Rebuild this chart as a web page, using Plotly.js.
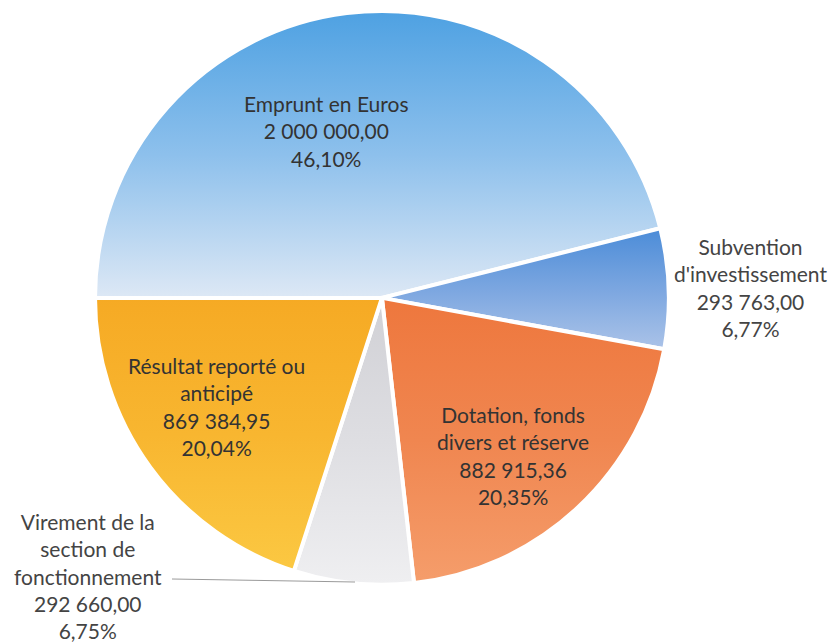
<!DOCTYPE html>
<html>
<head>
<meta charset="utf-8">
<script src="https://cdn.plot.ly/plotly-3.0.1.min.js"></script>
<style>html,body{margin:0;padding:0;background:#fff;}#chart{width:835px;height:642px;}</style>
</head>
<body>
<div id="chart"></div>
<script>
const labels = ["Emprunt en Euros", "Subvention d'investissement", "Dotation, fonds divers et réserve", "Virement de la section de fonctionnement", "Résultat reporté ou anticipé"];
const labelLines = ["Emprunt en Euros", "Subvention<br>d'investissement", "Dotation, fonds<br>divers et réserve", "Virement de la<br>section de<br>fonctionnement", "Résultat reporté ou<br>anticipé"];
const values = [2000000.00, 293763.00, 882915.36, 292660.00, 869384.95];
const valueText = ["2 000 000,00", "293 763,00", "882 915,36", "292 660,00", "869 384,95"];
const percentText = ["46,10%", "6,77%", "20,35%", "6,75%", "20,04%"];
const colors = ["#8cc0ec", "#7aa6e0", "#f0884f", "#e0e0e3", "#f8b833"];
const gradients = [
  ["#4ea1e2", "#8dc0ec", "#dde8f5"],
  ["#4b8cd8", "#7ba6e0", "#abc3e8"],
  ["#ee773d", "#f08650", "#f59d6b"],
  ["#d0d0d5", "#dedee2", "#efeff1"],
  ["#f6aa24", "#f8b630", "#fbc842"]
];

const font = "Lato, 'Open Sans', sans-serif";
const fullText = (i) => labelLines[i] + "<br>" + valueText[i] + "<br>" + percentText[i];

const trace = {
  type: "pie",
  labels: labels,
  values: values,
  textinfo: "none",
  hoverinfo: "label+value+percent",
  sort: false,
  direction: "clockwise",
  rotation: -90,
  marker: {colors: colors, line: {color: "#ffffff", width: 4}},
  domain: {x: [0.1138, 0.801], y: [0.089, 0.983]},
  showlegend: false
};

// label anchor positions in pixels (center of text block)
const labelPos = [[326, 131], [750, 287], [513, 455], [88, 576], [216, 406]];
const labelColor = ["#333333", "#444444", "#333333", "#444444", "#333333"];

const layout = {
  width: 835, height: 642,
  margin: {l: 0, r: 0, t: 0, b: 0},
  paper_bgcolor: "#ffffff",
  showlegend: false,
  annotations: labels.map((l, i) => ({
    xref: "paper", yref: "paper",
    x: labelPos[i][0] / 835, y: 1 - labelPos[i][1] / 642,
    text: fullText(i), showarrow: false,
    xanchor: "center", yanchor: "middle", align: "center",
    font: {family: font, size: 21, color: labelColor[i]}
  })),
  shapes: [
    {type: "line", xref: "paper", yref: "paper", x0: 172/835, x1: 355/835, y0: 1 - 579/642, y1: 1 - 582/642,
     line: {color: "#9a9a9a", width: 1}}
  ]
};

Plotly.newPlot("chart", [trace], layout, {displayModeBar: false, staticPlot: true}).then(function (gd) {
  const svg = gd.querySelector("svg.main-svg");
  const ns = "http://www.w3.org/2000/svg";
  const defs = document.createElementNS(ns, "defs");
  gradients.forEach(function (g, i) {
    const lg = document.createElementNS(ns, "linearGradient");
    lg.setAttribute("id", "sliceGrad" + i);
    lg.setAttribute("x1", "0"); lg.setAttribute("y1", "0");
    lg.setAttribute("x2", "0"); lg.setAttribute("y2", "1");
    g.forEach(function (c, k) {
      const st = document.createElementNS(ns, "stop");
      st.setAttribute("offset", String(k / (g.length - 1)));
      st.setAttribute("stop-color", c);
      lg.appendChild(st);
    });
    defs.appendChild(lg);
  });
  svg.insertBefore(defs, svg.firstChild);
  gd.querySelectorAll(".slice path.surface").forEach(function (p, i) {
    p.style.fill = "url(#sliceGrad" + i + ")";
  });
});
</script>
</body>
</html>
